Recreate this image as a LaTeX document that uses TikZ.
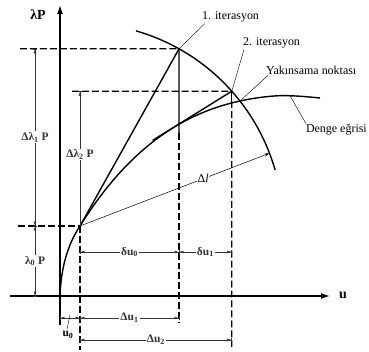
\documentclass[tikz,border=0pt]{standalone}
\usepackage{fontspec}
\setmainfont{Liberation Serif}
\usetikzlibrary{arrows.meta,calc}
\tikzset{
  axisline/.style={line width=1.4pt},
  eqcurve/.style={line width=1.4pt},
  guide/.style={line width=1.3pt, dash pattern=on 7pt off 3pt},
  dim/.style={black!80, line width=0.5pt,
    {Bar[width=5pt]Latex[length=4pt,width=3pt]}-{Latex[length=4pt,width=3pt]Bar[width=5pt]}},
  dimtop/.style={black!80, line width=0.5pt, {Bar[width=5pt]Latex[length=4pt,width=3pt]}-},
  dimlab/.style={fill=white, inner sep=1pt, font=\bfseries\fontsize{11.5}{13}\selectfont},
  note/.style={inner sep=1pt, font=\fontsize{12}{14}\selectfont},
}

\begin{document}
\begin{tikzpicture}[x=1bp,y=1bp]
  \useasboundingbox (0,0) rectangle (369,352);
  \coordinate (O) at (60,56);
  \coordinate (A) at (80,126);
  \coordinate (B) at ($(A)+(60.8:203)$);
  \coordinate (C) at ($(A)+(41.6:203)$);
  \coordinate (Y) at ($(A)+(38:203)$);
  \coordinate (D) at (179,228);
  \coordinate (Dpt) at (290,256.2);
  % axes
  \draw[axisline,-{Latex[length=9pt,width=6pt]}] (60,27) -- (60,347);
  \draw[axisline,-{Latex[length=9pt,width=6pt]}] (10,56) -- (330,56);
  \node[font=\bfseries\fontsize{14}{16}\selectfont] (lp) at (38,337) {λP};
  \node[font=\bfseries\fontsize{14}{16}\selectfont] (ulab) at (343,57) {u};
  % equilibrium curve and arc
  \draw[eqcurve] (O) .. controls (61,85) and (68,108) .. (A)
    .. controls (120,190) and (170,236) .. (Y)
    .. controls (262,256) and (285,257) .. (Dpt)
    .. controls (300,256) and (310,255) .. (320,254);
  \draw[eqcurve] ($(A)+(74:203)$) arc[start angle=74, end angle=16, radius=203];
  % iterations
  \draw[eqcurve] (A) -- (B);
  \draw[eqcurve] ($(D)!-0.5!(C)$) -- (C);
  \draw[eqcurve] (B) -- (179,219);
  \draw[eqcurve] (C) -- ($(C)+(0,-10)$);
  \draw[guide] (179,219) -- (179,29);
  \draw[guide] ($(C)+(0,-10)$) -- (231.8,5);
  \draw[guide] (A) -- (80,2);
  \draw[guide] (20,303.2) -- (B);
  \draw[guide] (72,260.8) -- (C);
  \draw[guide] (18,126) -- (A);
  % arc length
  \draw[line width=0.5pt,-{Stealth[length=5pt,width=3pt]}] (A) -- ($(A)+(21:203)$)
    node[pos=0.65, fill=white, inner sep=0.5pt, font=\fontsize{12}{14}\selectfont] (dl) {Δ\textit{l}};
  % dimensions
  \draw[dim] (35,303.2) -- (35,126) node[midway, dimlab] (dlam1) {Δλ\textsubscript{1} P};
  \draw[dim] (35,126) -- (35,56) node[midway, dimlab] (lam0) {λ\textsubscript{0} P};
  \draw[dimtop] (80,260.8) -- (A) node[pos=0.47, dimlab] (dlam2) {Δλ\textsubscript{2} P};
  \draw[dim] (80,100) -- (179,100) node[midway, dimlab] (du0) {δu\textsubscript{0}};
  \draw[dim] (179,100) -- (231.8,100) node[midway, dimlab] (du1) {δu\textsubscript{1}};
  \draw[dim] (60,34) -- (80,34);
  \draw[dim] (80,34) -- (179,34) node[midway, dimlab] (Du1) {Δu\textsubscript{1}};
  \draw[dim] (80,12) -- (231.8,12) node[midway, dimlab] (Du2) {Δu\textsubscript{2}};
  \node[dimlab, fill=none] (u0lab) at (68,17) {u\textsubscript{0}};
  \coordinate (u0tick) at (70,37);
  \draw[line width=0.4pt] (u0lab.north) ++(-1,1) -- (u0tick);
  % notes
  \node[note, anchor=west] (it1) at (201,335) {1. iterasyon};
  \node[note, anchor=west] (it2) at (242,309) {2. iterasyon};
  \node[note, anchor=west] (yak) at (265,282) {Yakınsama noktası};
  \node[note, anchor=east] (denge) at (368,222) {Denge eğrisi};
  \draw[line width=0.4pt] ($(it1.south west)+(4,0)$) -- (B);
  \draw[line width=0.4pt] ($(it2.south west)+(2,0)$) -- (C);
  \draw[line width=0.4pt] ($(yak.south west)+(3,0)$) -- (Y);
  \draw[line width=0.4pt] ($(denge.north west)+(1,0)$) -- (Dpt);
\end{tikzpicture}
\end{document}
